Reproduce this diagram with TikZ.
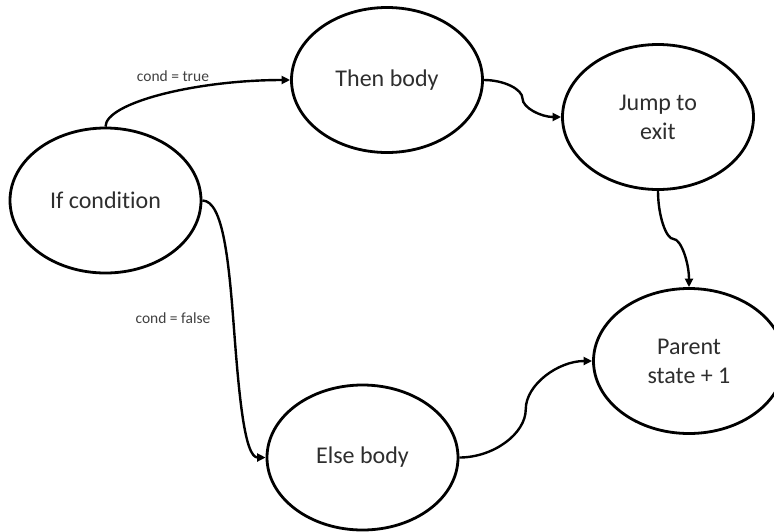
\documentclass[tikz,border=0pt]{standalone}
\usepackage{fontspec}
\setmainfont{Carlito}[Ligatures=NoCommon]
\usetikzlibrary{shapes.geometric,arrows.meta,calc}

\tikzset{
  state/.style={ellipse, draw=black, line width=2.8pt, fill=white,
    minimum width=191pt, minimum height=145pt, inner sep=0pt,
    align=center, text=black!82, font=\fontsize{24}{29}\selectfont},
  conn/.style={draw=black, line width=2.4pt,
    -{Triangle[length=8.5pt,width=8pt]}},
  condlabel/.style={text=black!75, inner sep=0pt,
    font=\fontsize{15.5}{18}\selectfont}
}

\begin{document}
\begin{tikzpicture}[x=1pt,y=-1pt]
  \useasboundingbox (0,0) rectangle (774,531);

  % states
  \node[state] (ifc)    at (105.5,200.5) {If condition};
  \node[state] (then)   at (387,80)      {Then body};
  \node[state] (jump)   at (658,117)     {Jump to\\exit};
  \node[state] (parent) at (689,361)     {Parent\\state + 1};
  \node[state] (else)   at (362.5,457.5) {Else body};

  % midpoints of the S-shaped connectors
  \coordinate (m2) at ($(ifc.east)!.5!(else.west)$);
  \coordinate (m3) at ($(then.east)!.5!(jump.west)$);
  \coordinate (m4) at ($(jump.south)!.5!(parent.north)$);
  \coordinate (m5) at ($(else.east)!.5!(parent.west)$);

  % transitions
  \draw[conn] (ifc.north) .. controls +(0,-24) and +(-93.5,0) .. (then.west);
  \draw[conn] (ifc.east) .. controls +(21,0) and +(-5,-66) .. (m2)
                         .. controls +(5,66) and +(-21,0) .. (else.west);
  \draw[conn] (then.east) .. controls +(20,0) and +(0,-9.25) .. (m3)
                          .. controls +(0,9.25) and +(-20,0) .. (jump.west);
  \draw[conn] (jump.south) .. controls +(0,24.5) and +(-7.5,0) .. (m4)
                           .. controls +(7.5,0) and +(0,-24.5) .. (parent.north);
  \draw[conn] (else.east) .. controls +(34,0) and +(0,24.5) .. (m5)
                          .. controls +(0,-24.5) and +(-34,0) .. (parent.west);

  % edge labels
  \node[condlabel] (ltrue)  at (173,76)  {cond = true};
  \node[condlabel] (lfalse) at (173,318) {cond = false};
\end{tikzpicture}
\end{document}
